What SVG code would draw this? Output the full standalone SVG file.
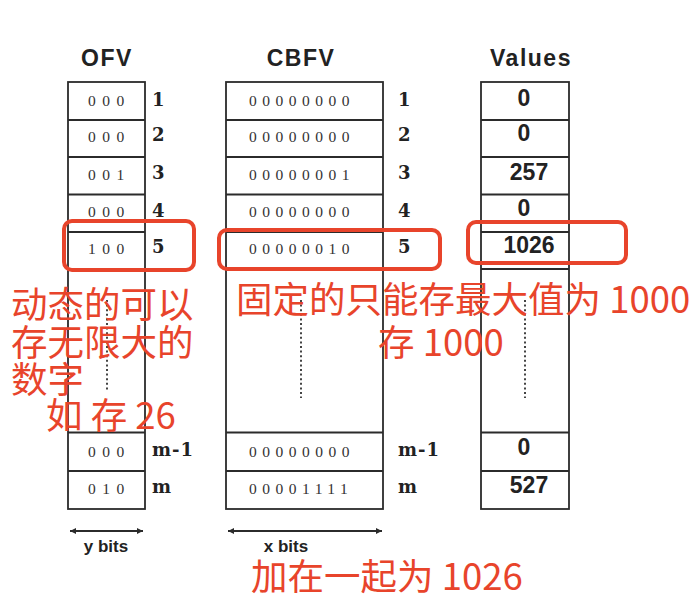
<svg xmlns="http://www.w3.org/2000/svg" width="696" height="606" viewBox="0 0 696 606">
<defs>
<style>
.box{fill:none;stroke:#2b2b2b;stroke-width:1.8}
.ln{stroke:#2b2b2b;stroke-width:1.8}
.dot{stroke:#444;stroke-width:2;stroke-dasharray:2 2.6}
.title{font-family:"Liberation Sans",Arial,sans-serif;font-weight:bold;font-size:23px;fill:#222;letter-spacing:1.5px}
.bits{font-family:"Liberation Serif","Times New Roman",serif;font-size:15.5px;fill:#333}
.lab{font-family:"DejaVu Serif",serif;font-weight:bold;font-size:18px;fill:#222;letter-spacing:1px}
.val{font-family:"Liberation Sans",Arial,sans-serif;font-weight:bold;font-size:23px;fill:#222;text-anchor:middle}
.ax{font-family:"Liberation Sans",Arial,sans-serif;font-weight:bold;font-size:17px;fill:#222}
.hl{fill:none;stroke:#E8442B;stroke-width:4}
.red{font-family:"Noto Sans CJK SC","Noto Sans",sans-serif;font-size:36.5px;fill:#E8442B}
</style>
<marker id="ah" viewBox="0 0 10 10" refX="10" refY="5" markerWidth="9" markerHeight="6" markerUnits="userSpaceOnUse" orient="auto-start-reverse">
<path d="M0,0 L10,5 L0,10 z" fill="#2b2b2b"/>
</marker>
</defs>
<rect width="696" height="606" fill="#fff"/>

<g id="ofv">
<text class="title" x="107" y="66" text-anchor="middle">OFV</text>
<rect class="box" x="68" y="82" width="77" height="427"/>
<line class="ln" x1="68" y1="120" x2="145" y2="120"/>
<line class="ln" x1="68" y1="157" x2="145" y2="157"/>
<line class="ln" x1="68" y1="194.5" x2="145" y2="194.5"/>
<line class="ln" x1="68" y1="232" x2="145" y2="232"/>
<line class="ln" x1="68" y1="269" x2="145" y2="269"/>
<line class="ln" x1="68" y1="432.5" x2="145" y2="432.5"/>
<line class="ln" x1="68" y1="471" x2="145" y2="471"/>
<line class="dot" x1="107" y1="300" x2="107" y2="390"/>
<g class="bits" letter-spacing="6.5">
<text x="88" y="105.5">000</text>
<text x="88" y="141.5">000</text>
<text x="88" y="179.5">001</text>
<text x="88" y="216.5">000</text>
<text x="88" y="253.5">100</text>
<text x="88" y="456.5">000</text>
<text x="88" y="493.5">010</text>
</g>
<g class="lab">
<text x="152" y="106">1</text>
<text x="152" y="141">2</text>
<text x="152" y="179">3</text>
<text x="152" y="216.5">4</text>
<text x="152" y="252.5">5</text>
<text x="152" y="456">m-1</text>
<text x="152" y="493">m</text>
</g>
</g>

<g id="cbfv">
<text class="title" x="301" y="66" text-anchor="middle">CBFV</text>
<rect class="box" x="226" y="82" width="157" height="427"/>
<line class="ln" x1="226" y1="120" x2="383" y2="120"/>
<line class="ln" x1="226" y1="157" x2="383" y2="157"/>
<line class="ln" x1="226" y1="194.5" x2="383" y2="194.5"/>
<line class="ln" x1="226" y1="232" x2="383" y2="232"/>
<line class="ln" x1="226" y1="269" x2="383" y2="269"/>
<line class="ln" x1="226" y1="432.5" x2="383" y2="432.5"/>
<line class="ln" x1="226" y1="471" x2="383" y2="471"/>
<line class="dot" x1="301" y1="300" x2="301" y2="398"/>
<g class="bits" letter-spacing="5.5">
<text x="249" y="105.5">00000000</text>
<text x="249" y="141.5">00000000</text>
<text x="249" y="179.5">00000001</text>
<text x="249" y="216.5">00000000</text>
<text x="249" y="253.5">00000010</text>
<text x="249" y="456.5">00000000</text>
<text x="249" y="493.5">00001111</text>
</g>
<g class="lab">
<text x="398" y="106">1</text>
<text x="398" y="141">2</text>
<text x="398" y="179">3</text>
<text x="398" y="216.5">4</text>
<text x="398" y="252.5">5</text>
<text x="398" y="456">m-1</text>
<text x="398" y="493">m</text>
</g>
</g>

<g id="values">
<text class="title" x="531" y="66" text-anchor="middle">Values</text>
<rect class="box" x="481" y="82" width="88" height="427"/>
<line class="ln" x1="481" y1="120" x2="569" y2="120"/>
<line class="ln" x1="481" y1="157" x2="569" y2="157"/>
<line class="ln" x1="481" y1="194.5" x2="569" y2="194.5"/>
<line class="ln" x1="481" y1="232" x2="569" y2="232"/>
<line class="ln" x1="481" y1="269" x2="569" y2="269"/>
<line class="ln" x1="481" y1="432.5" x2="569" y2="432.5"/>
<line class="ln" x1="481" y1="471" x2="569" y2="471"/>
<line class="dot" x1="525" y1="300" x2="525" y2="398"/>
<text class="val" x="524" y="106">0</text>
<text class="val" x="524" y="141">0</text>
<text class="val" x="529" y="180">257</text>
<text class="val" x="524" y="216">0</text>
<text class="val" x="529" y="253">1026</text>
<text class="val" x="524" y="455">0</text>
<text class="val" x="529" y="493">527</text>
</g>

<g id="connectors">
<line class="ln" x1="70" y1="531" x2="143" y2="531" marker-start="url(#ah)" marker-end="url(#ah)"/>
<line class="ln" x1="228" y1="531" x2="382" y2="531" marker-start="url(#ah)" marker-end="url(#ah)"/>
</g>
<g id="axis-labels">
<text class="ax" x="106" y="552" text-anchor="middle">y bits</text>
<text class="ax" x="286" y="552" text-anchor="middle">x bits</text>
</g>

<g id="highlights">
<rect class="hl" x="64" y="221" width="130" height="49" rx="8"/>
<rect class="hl" x="219" y="230" width="221" height="39" rx="8"/>
<rect class="hl" x="468" y="222" width="158" height="41" rx="8"/>
</g>

<g id="notes">
<text class="red" x="11" y="317.5">动态的可以</text>
<text class="red" x="11" y="356">存无限大的</text>
<text class="red" x="11" y="392.5">数字</text>
<text class="red" x="46" y="429">如 存 26</text>
<text class="red" x="236" y="312.5">固定的只能存最大值为 1000</text>
<text class="red" x="378" y="355.5">存 1000</text>
<text class="red" x="251" y="590">加在一起为 1026</text>
</g>
</svg>
